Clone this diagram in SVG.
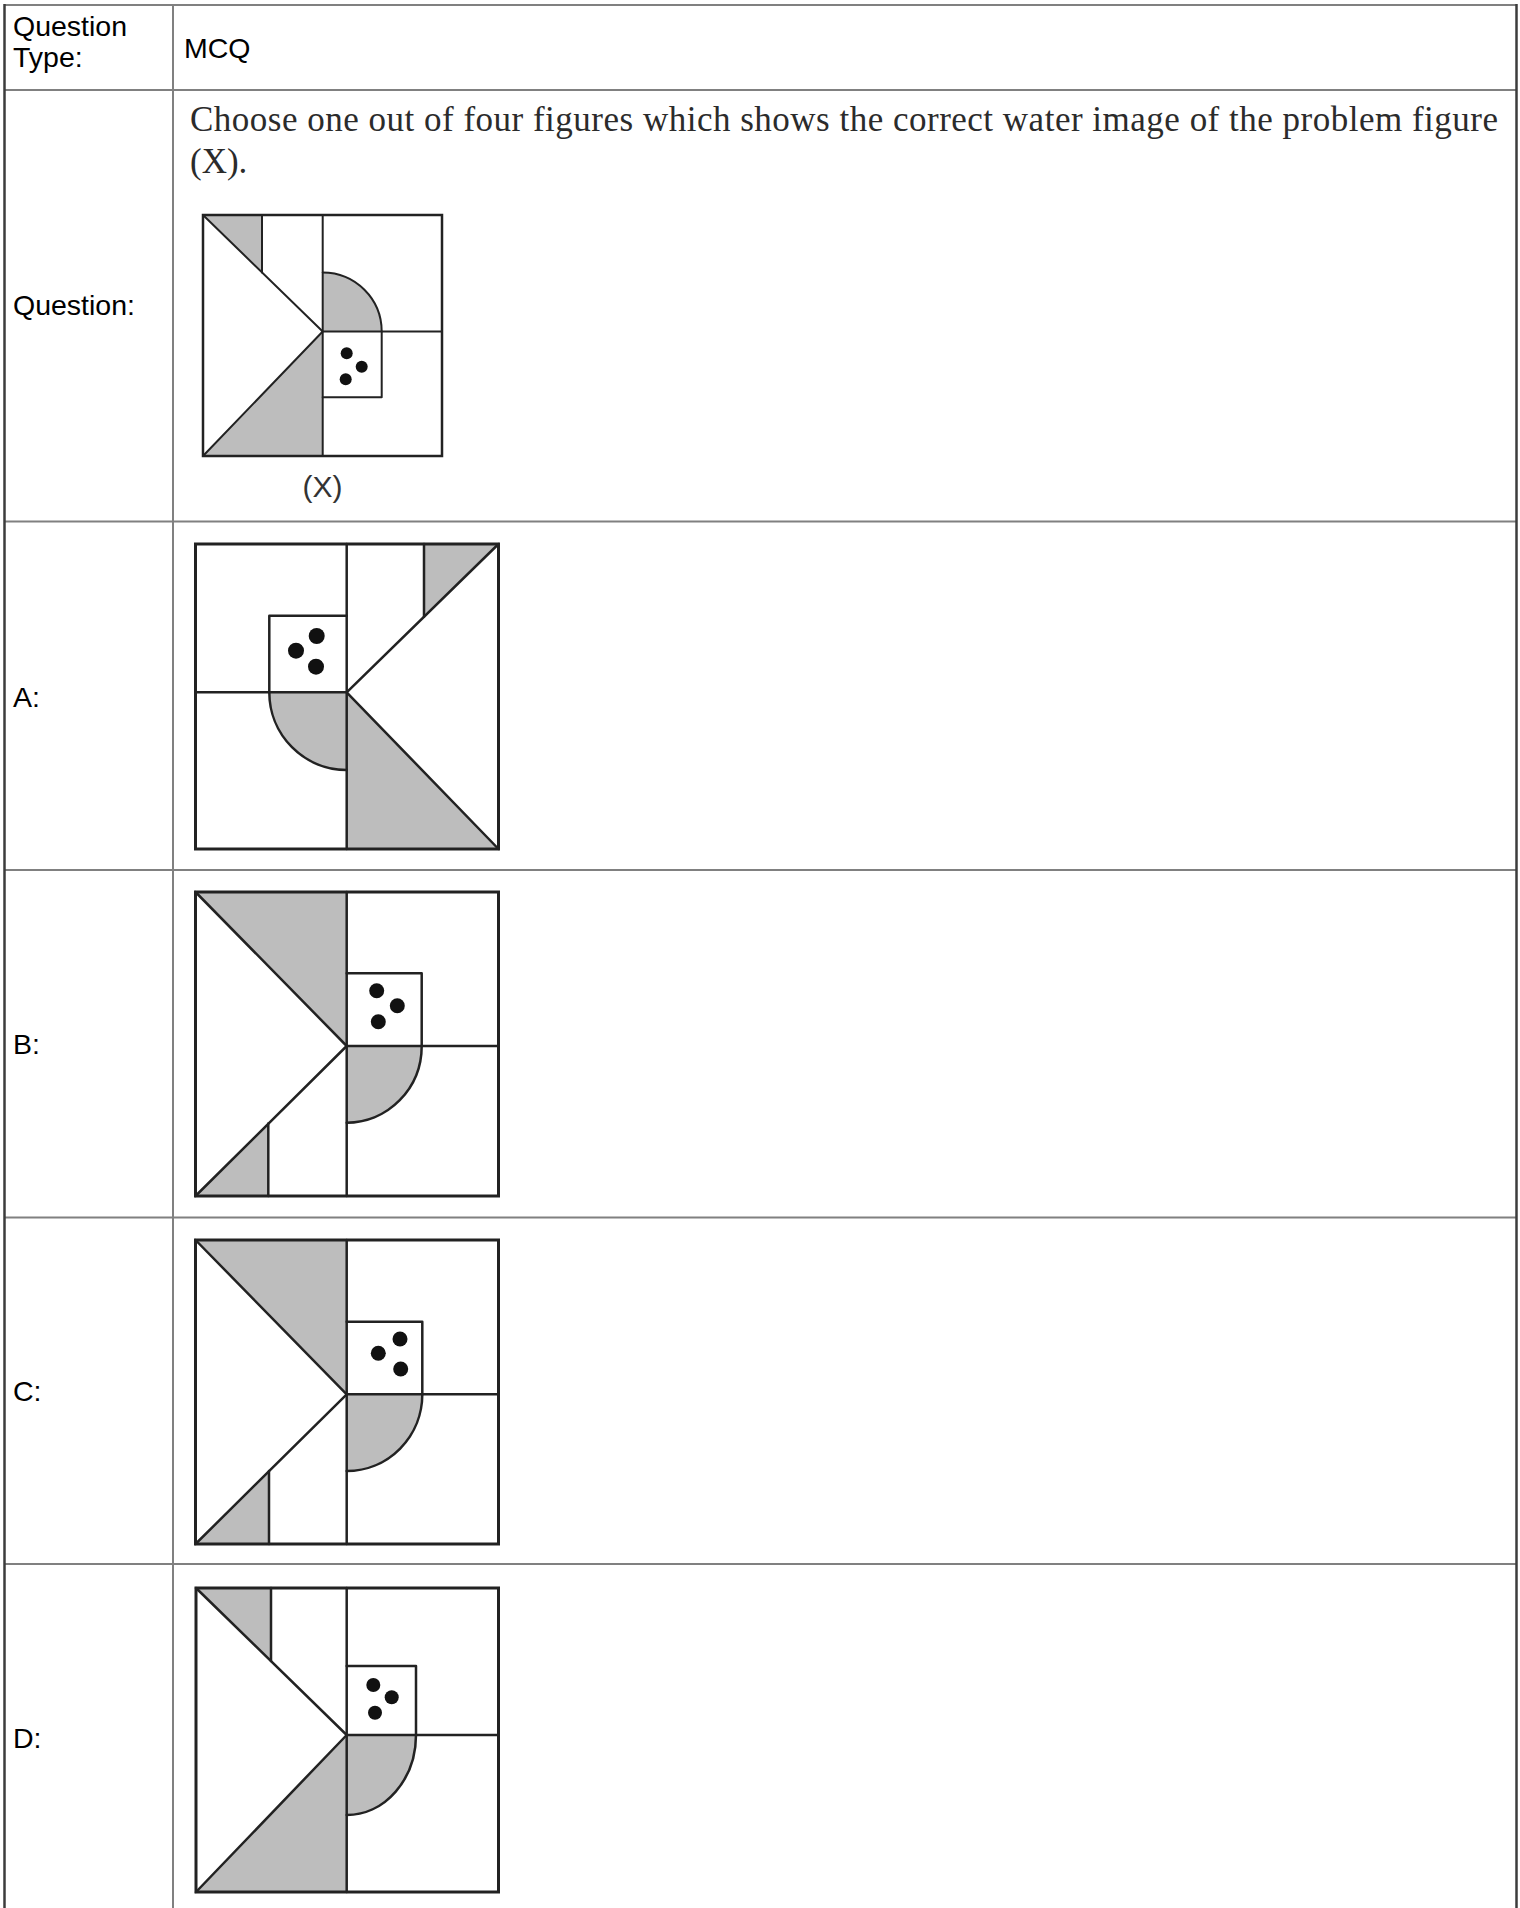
<svg xmlns="http://www.w3.org/2000/svg" width="1520" height="1908" viewBox="0 0 1520 1908">
<style>
.grid{stroke:#808080;stroke-width:2;fill:none}
.border{stroke:#3c3c3c;stroke-width:2.5;fill:none}
.lbl{font-family:"Liberation Sans",Arial,sans-serif;font-size:28.5px;fill:#000}
.q{font-family:"Liberation Serif","Times New Roman",serif;font-size:35px;fill:#2b2b2b}
.cap{font-family:"Liberation Sans",Arial,sans-serif;font-size:30px;fill:#333;text-anchor:middle}
.box{fill:none;stroke:#222;stroke-width:3}
.boxx{fill:none;stroke:#222;stroke-width:2.5}
.ln{stroke:#222;stroke-width:2.5;fill:none;stroke-linecap:round;stroke-linejoin:round}
.lnx{stroke:#222;stroke-width:2;fill:none;stroke-linecap:round;stroke-linejoin:round}
.sh{fill:#bdbdbd;stroke:none}
.dot{fill:#111}
</style>
<rect width="1520" height="1908" fill="#fff"/>
<g id="table">
<line class="grid" x1="4" y1="5" x2="1517" y2="5"/>
<line class="grid" x1="4" y1="90" x2="1517" y2="90"/>
<line class="grid" x1="4" y1="521.5" x2="1517" y2="521.5"/>
<line class="grid" x1="4" y1="870" x2="1517" y2="870"/>
<line class="grid" x1="4" y1="1217.5" x2="1517" y2="1217.5"/>
<line class="grid" x1="4" y1="1564" x2="1517" y2="1564"/>
<line class="grid" x1="173" y1="5" x2="173" y2="1908"/>
<line class="border" x1="4.5" y1="4" x2="4.5" y2="1908"/>
<line class="border" x1="1516.5" y1="4" x2="1516.5" y2="1908"/>
</g>
<g id="labels">
<text class="lbl" x="13" y="36">Question</text>
<text class="lbl" x="13" y="67">Type:</text>
<text class="lbl" x="184" y="58">MCQ</text>
<text class="lbl" x="13" y="315">Question:</text>
<text class="lbl" x="13" y="707">A:</text>
<text class="lbl" x="13" y="1054">B:</text>
<text class="lbl" x="13" y="1401">C:</text>
<text class="lbl" x="13" y="1748">D:</text>
</g>
<g id="question-text">
<text class="q" x="190" y="131" textLength="1308" lengthAdjust="spacing">Choose one out of four figures which shows the correct water image of the problem figure</text>
<text class="q" x="190" y="173">(X).</text>
</g>
<g id="figure-x">
<rect x="203" y="215" width="239" height="241" fill="#fff"/>
<polygon class="sh" points="203,215 262,215 262,272.4"/>
<polygon class="sh" points="322.7,331.5 203,456 322.7,456"/>
<path class="sh" d="M322.7,331.5 L322.7,272.5 A59 59 0 0 1 381.7,331.5 Z"/>
<path class="lnx" d="M203,215 L322.7,331.5 L203,456"/>
<path class="lnx" d="M262,215 L262,272.4"/>
<path class="lnx" d="M322.7,215 L322.7,456"/>
<path class="lnx" d="M322.7,331.5 L442,331.5"/>
<path class="lnx" d="M322.7,272.5 A59 59 0 0 1 381.7,331.5"/>
<path class="lnx" d="M381.7,331.5 L381.7,397.3 L322.7,397.3"/>
<circle class="dot" cx="346.7" cy="353.3" r="6"/>
<circle class="dot" cx="361.7" cy="366.7" r="6"/>
<circle class="dot" cx="345.7" cy="379.3" r="6"/>
<rect class="boxx" x="203" y="215" width="239" height="241"/>
<text class="cap" x="322.5" y="497">(X)</text>
</g>
<g id="option-a">
<rect x="195.5" y="544" width="303" height="305" fill="#fff"/>
<polygon class="sh" points="424,544 498.5,544 424,616.7"/>
<polygon class="sh" points="346.7,692.3 498.5,849 346.7,849"/>
<path class="sh" d="M346.7,692.3 L269.3,692.3 A77.4 77.7 0 0 0 346.7,770 Z"/>
<path class="ln" d="M498.5,544 L346.7,692.3 L498.5,849"/>
<path class="ln" d="M424,544 L424,616.7"/>
<path class="ln" d="M346.7,544 L346.7,849"/>
<path class="ln" d="M195.5,692.3 L346.7,692.3"/>
<path class="ln" d="M269.3,692.3 L269.3,615.7 L346.7,615.7"/>
<path class="ln" d="M269.3,692.3 A77.4 77.7 0 0 0 346.7,770"/>
<circle class="dot" cx="316.7" cy="636" r="8"/>
<circle class="dot" cx="296" cy="650.7" r="8"/>
<circle class="dot" cx="316" cy="666.7" r="8"/>
<rect class="box" x="195.5" y="544" width="303" height="305"/>
</g>
<g id="option-b">
<rect x="195.5" y="892" width="303" height="304" fill="#fff"/>
<polygon class="sh" points="195.5,892 346.7,892 346.7,1046"/>
<polygon class="sh" points="195.5,1196 268.3,1196 268.3,1123.5"/>
<path class="sh" d="M346.7,1046 L421.7,1046 A75 76.7 0 0 1 346.7,1122.7 Z"/>
<path class="ln" d="M195.5,892 L346.7,1046 L195.5,1196"/>
<path class="ln" d="M268.3,1196 L268.3,1123.5"/>
<path class="ln" d="M346.7,892 L346.7,1196"/>
<path class="ln" d="M346.7,1046 L498.5,1046"/>
<path class="ln" d="M346.7,973.3 L421.7,973.3 L421.7,1046"/>
<path class="ln" d="M421.7,1046 A75 76.7 0 0 1 346.7,1122.7"/>
<circle class="dot" cx="376.7" cy="990.7" r="7.5"/>
<circle class="dot" cx="397.3" cy="1005.7" r="7.5"/>
<circle class="dot" cx="378.3" cy="1021.7" r="7.5"/>
<rect class="box" x="195.5" y="892" width="303" height="304"/>
</g>
<g id="option-c">
<rect x="195.5" y="1240" width="303" height="304" fill="#fff"/>
<polygon class="sh" points="195.5,1240 346.7,1240 346.7,1394.3"/>
<polygon class="sh" points="195.5,1544 269,1544 269,1470.9"/>
<path class="sh" d="M346.7,1394.3 L422.3,1394.3 A75.6 76.7 0 0 1 346.7,1471 Z"/>
<path class="ln" d="M195.5,1240 L346.7,1394.3 L195.5,1544"/>
<path class="ln" d="M269,1544 L269,1470.9"/>
<path class="ln" d="M346.7,1240 L346.7,1544"/>
<path class="ln" d="M346.7,1394.3 L498.5,1394.3"/>
<path class="ln" d="M346.7,1321.7 L422.3,1321.7 L422.3,1394.3"/>
<path class="ln" d="M422.3,1394.3 A75.6 76.7 0 0 1 346.7,1471"/>
<circle class="dot" cx="400" cy="1339" r="7.5"/>
<circle class="dot" cx="378.3" cy="1353.3" r="7.5"/>
<circle class="dot" cx="400.7" cy="1369" r="7.5"/>
<rect class="box" x="195.5" y="1240" width="303" height="304"/>
</g>
<g id="option-d">
<rect x="196" y="1588" width="302.5" height="304" fill="#fff"/>
<polygon class="sh" points="196,1588 271,1588 271,1661"/>
<polygon class="sh" points="346.7,1735 196,1892 346.7,1892"/>
<path class="sh" d="M346.7,1735 L416,1735 A69.3 80 0 0 1 346.7,1815 Z"/>
<path class="ln" d="M196,1588 L346.7,1735 L196,1892"/>
<path class="ln" d="M271,1588 L271,1661"/>
<path class="ln" d="M346.7,1588 L346.7,1892"/>
<path class="ln" d="M346.7,1735 L498.5,1735"/>
<path class="ln" d="M346.7,1666 L416,1666 L416,1735"/>
<path class="ln" d="M416,1735 A69.3 80 0 0 1 346.7,1815"/>
<circle class="dot" cx="373.3" cy="1685" r="7"/>
<circle class="dot" cx="391.7" cy="1697.3" r="7"/>
<circle class="dot" cx="375" cy="1712.7" r="7"/>
<rect class="box" x="196" y="1588" width="302.5" height="304"/>
</g>
</svg>
